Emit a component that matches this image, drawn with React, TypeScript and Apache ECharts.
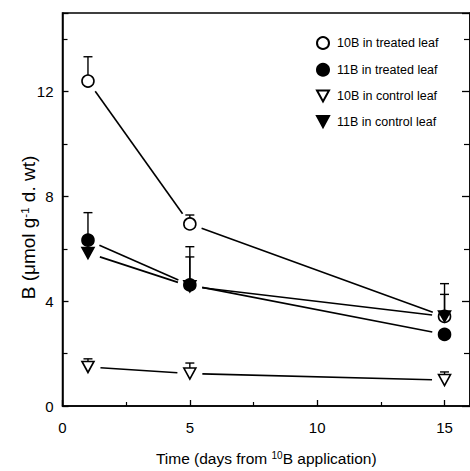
import React, { useEffect, useRef } from "react";
import * as echarts from "echarts";

const days = [1, 5, 15];
const seriesNames = [
  "10B in treated leaf",
  "11B in treated leaf",
  "10B in control leaf",
  "11B in control leaf",
];
const b10Treated = [12.4, 6.95, 3.42];
const b11Treated = [6.33, 4.62, 2.73];
const b10Control = [1.49, 1.24, 0.99];
const b11Control = [5.84, 4.57, 3.42];
const b10TreatedErrTop = [13.33, 7.29, 4.26];
const b11TreatedErrTop = [7.38, 6.08, null];
const b10ControlErrTop = [1.8, 1.64, 1.3];
const b11ControlErrTop = [null, 5.69, 4.67];

const FONT = "Liberation Sans, Arial, Helvetica, sans-serif";
const DOWN_TRI = "path://M0,0L12,0L6,11Z";

function pts(vals: number[]) {
  return days.map((d, i) => [d, vals[i]]);
}
function segs(vals: number[]) {
  const out: number[][] = [];
  for (let i = 0; i < days.length - 1; i++) out.push([days[i], vals[i], days[i + 1], vals[i + 1]]);
  return out;
}
function errs(vals: number[], tops: (number | null)[]) {
  const out: number[][] = [];
  days.forEach((d, i) => {
    const t = tops[i];
    if (t != null) out.push([d, vals[i], t]);
  });
  return out;
}

export default function App() {
  const ref = useRef<HTMLDivElement>(null);
  useEffect(() => {
    if (!ref.current) return;
    const chart = echarts.init(ref.current, undefined, { renderer: "svg" });
    const all = [b10Treated, b11Treated, b10Control, b11Control];
    const tops = [b10TreatedErrTop, b11TreatedErrTop, b10ControlErrTop, b11ControlErrTop];
    const styles = [
      { symbol: "circle", size: 12, color: "#fff" },
      { symbol: "circle", size: 12, color: "#000" },
      { symbol: DOWN_TRI, size: [12, 11], color: "#fff" },
      { symbol: DOWN_TRI, size: [12, 11], color: "#000" },
    ];
    const GAP = 12.5;
    const series: any[] = [];
    all.forEach((vals, k) => {
      series.push({
        id: "seg" + k,
        type: "custom",
        data: segs(vals),
        dimensions: ["x1", "y1", "x2", "y2"],
        encode: { x: [0, 2], y: [1, 3] },
        z: 1,
        silent: true,
        renderItem: (params: any, api: any) => {
          const a = api.coord([api.value(0), api.value(1)]);
          const b = api.coord([api.value(2), api.value(3)]);
          const dx = b[0] - a[0];
          const dy = b[1] - a[1];
          const len = Math.sqrt(dx * dx + dy * dy) || 1;
          const ux = dx / len;
          const uy = dy / len;
          return {
            type: "line",
            shape: {
              x1: a[0] + ux * GAP,
              y1: a[1] + uy * GAP,
              x2: b[0] - ux * GAP,
              y2: b[1] - uy * GAP,
            },
            style: { stroke: "#000", lineWidth: 1.6 },
          };
        },
      });
    });
    all.forEach((vals, k) => {
      series.push({
        id: "err" + k,
        type: "custom",
        data: errs(vals, tops[k]),
        z: 3,
        silent: true,
        renderItem: (params: any, api: any) => {
          const x = api.value(0);
          const p0 = api.coord([x, api.value(1)]);
          const p1 = api.coord([x, api.value(2)]);
          return {
            type: "group",
            children: [
              {
                type: "line",
                shape: { x1: p0[0], y1: p0[1], x2: p1[0], y2: p1[1] },
                style: { stroke: "#000", lineWidth: 1.4 },
              },
              {
                type: "line",
                shape: { x1: p1[0] - 4.5, y1: p1[1], x2: p1[0] + 4.5, y2: p1[1] },
                style: { stroke: "#000", lineWidth: 1.4 },
              },
            ],
          };
        },
      });
    });
    all.forEach((vals, k) => {
      series.push({
        name: seriesNames[k],
        type: "scatter",
        data: pts(vals),
        symbol: styles[k].symbol,
        symbolSize: styles[k].size,
        itemStyle: { color: styles[k].color, borderColor: "#000", borderWidth: 1.6, opacity: 1 },
        z: 4 + (k === 1 ? 1 : 0),
      });
    });

    chart.setOption({
      animation: false,
      backgroundColor: "#fff",
      grid: { left: 62.5, top: 13, width: 411, height: 400, show: true, borderColor: "#000", borderWidth: 1.5 },
      legend: {
        orient: "vertical",
        left: 311,
        top: 31,
        itemWidth: 12,
        itemHeight: 12,
        itemGap: 12.7,
        data: seriesNames,
        textStyle: { fontFamily: FONT, fontSize: 12.5, color: "#000", padding: [0, 0, 0, 3] },
        selectedMode: false,
      },
      xAxis: {
        type: "value",
        min: 0,
        max: 16,
        interval: 5,
        name: "Time (days from {s|10}B application)",
        nameLocation: "middle",
        nameGap: 44,
        nameMoveOverlap: false,
        nameTextStyle: {
          fontFamily: FONT,
          fontSize: 15.5,
          color: "#000",
          rich: { s: { fontFamily: FONT, fontSize: 10, verticalAlign: "top", color: "#000", padding: [0, 0, 6, 0] } },
        },
        axisLine: { lineStyle: { color: "#000", width: 1.5 } },
        axisTick: { inside: true, length: 6, lineStyle: { color: "#000", width: 1.3 } },
        minorTick: { show: true, splitNumber: 2, length: 4, lineStyle: { color: "#000", width: 1.2 } },
        axisLabel: { fontFamily: FONT, fontSize: 15, color: "#000", margin: 14, showMaxLabel: false },
        splitLine: { show: false },
      },
      yAxis: [
        {
          type: "value",
          min: 0,
          max: 15,
          interval: 4,
          name: "B (\u03bcmol g{s|-1} d. wt)",
          nameLocation: "middle",
          nameGap: 25,
          nameMoveOverlap: false,
          nameTextStyle: {
            fontFamily: FONT,
            fontSize: 19,
            color: "#000",
            padding: [0, 36, 0, 0],
            rich: { s: { fontFamily: FONT, fontSize: 11.5, verticalAlign: "top", color: "#000", padding: [0, 0, 7, 0] } },
          },
          axisLine: { lineStyle: { color: "#000", width: 1.5 } },
          axisTick: { inside: true, length: 6, lineStyle: { color: "#000", width: 1.3 } },
          minorTick: { show: true, splitNumber: 2, length: 5, lineStyle: { color: "#000", width: 1.2 } },
          axisLabel: { fontFamily: FONT, fontSize: 15, color: "#000", margin: 9, showMaxLabel: false },
          splitLine: { show: false },
        },
        {
          type: "value",
          position: "right",
          min: 0,
          max: 15,
          interval: 4,
          axisLine: { show: true, lineStyle: { color: "#000", width: 1.5 } },
          axisTick: { inside: true, length: 8, lineStyle: { color: "#000", width: 1.3 } },
          minorTick: { show: true, splitNumber: 2, length: 6, lineStyle: { color: "#000", width: 1.2 } },
          axisLabel: { show: false },
          splitLine: { show: false },
        },
      ],
      series,
    });
    return () => chart.dispose();
  }, []);
  return (
    <div
      ref={ref}
      style={{ position: "absolute", left: 0, top: 0, width: 470, height: 471, background: "#fff" }}
    />
  );
}
